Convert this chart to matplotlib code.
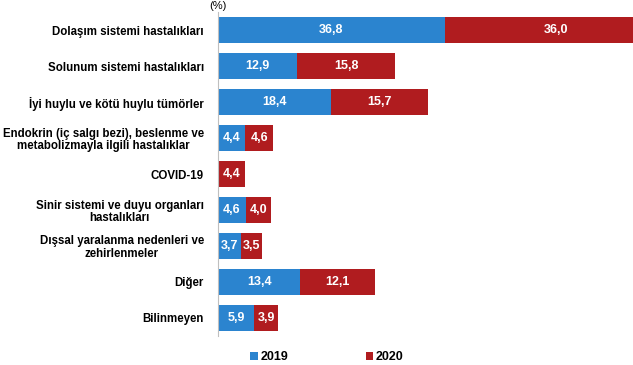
import matplotlib.pyplot as plt
import numpy as np

plt.rcParams['font.family'] = ['Liberation Sans', 'DejaVu Sans']

categories = [
    "Dolaşım sistemi hastalıkları",
    "Solunum sistemi hastalıkları",
    "İyi huylu ve kötü huylu tümörler",
    "Endokrin (iç salgı bezi), beslenme ve\nmetabolizmayla ilgili hastalıklar",
    "COVID-19",
    "Sinir sistemi ve duyu organları\nhastalıkları",
    "Dışsal yaralanma nedenleri ve\nzehirlenmeler",
    "Diğer",
    "Bilinmeyen",
]
v2019 = [36.8, 12.9, 18.4, 4.4, 0.0, 4.6, 3.7, 13.4, 5.9]
v2020 = [36.0, 15.8, 15.7, 4.6, 4.4, 4.0, 3.5, 12.1, 3.9]
series_names = ["2019", "2020"]

blue = "#2B84CF"
red = "#B01C1F"

fig = plt.figure(figsize=(6.33, 3.65), dpi=100)
ax = fig.add_axes([0.344, 0.0795, 0.656, 0.8875])

y = np.arange(len(categories))
b1 = ax.barh(y, v2019, height=0.72, color=blue, label=series_names[0])
b2 = ax.barh(y, v2020, left=v2019, height=0.72, color=red, label=series_names[1])

for bars, vals in ((b1, v2019), (b2, v2020)):
    for bar, v in zip(bars, vals):
        if v <= 0:
            continue
        cx = bar.get_x() + bar.get_width() / 2
        ax.text(cx, bar.get_y() + bar.get_height() / 2, f"{v:.1f}".replace(".", ","),
                ha="center", va="center", color="white", fontsize=9, fontweight="bold")

ax.set_xlim(0, 67.3)
ax.set_ylim(len(categories) - 0.5, -0.5)
ax.set_yticks(y)
ax.set_yticklabels(categories, fontsize=8.3, fontweight="bold",
                   multialignment="center", linespacing=1.1)
ax.tick_params(axis="y", length=0, pad=10)
ax.set_xticks([])
for s in ("top", "right", "bottom"):
    ax.spines[s].set_visible(False)
ax.spines["left"].set_color("#BFBFBF")

fig.text(0.344, 0.998, "(%)", ha="center", va="top", fontsize=8)

ax.legend(handles=[b1, b2], loc="center", bbox_to_anchor=(0.263, -0.065), ncol=2,
          frameon=False, handlelength=0.6, handleheight=0.6,
          handletextpad=0.2, columnspacing=6.2, prop={"weight": "bold", "size": 9})

fig.savefig("out.png", dpi=100)
